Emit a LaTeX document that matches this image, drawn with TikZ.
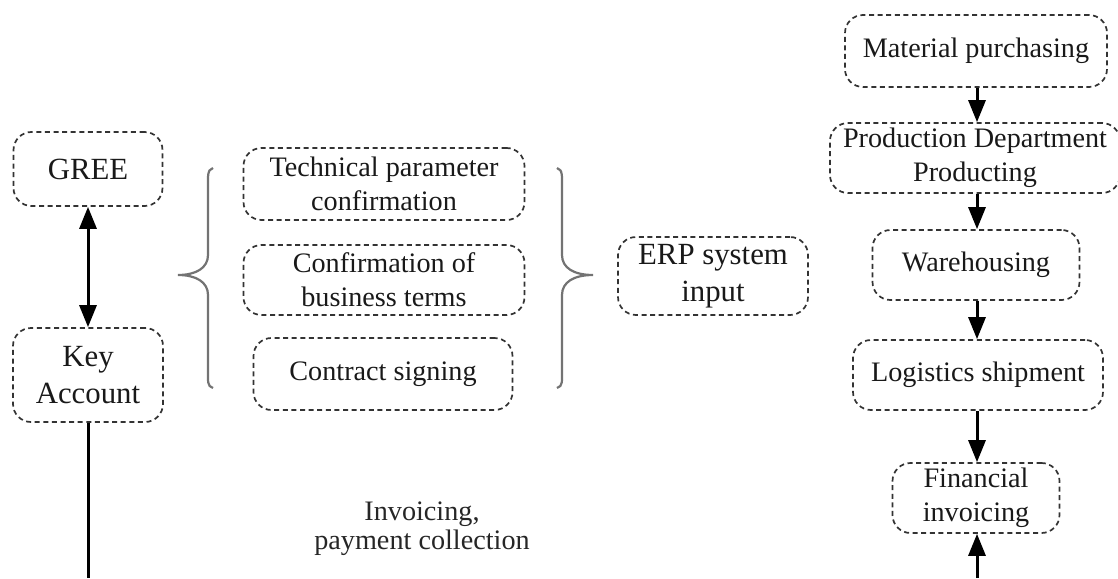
\documentclass[tikz,border=0pt]{standalone}
\usepackage{fontspec}
\setmainfont{Liberation Serif}
\usetikzlibrary{arrows.meta}
\begin{document}
\begin{tikzpicture}[x=1pt,y=-1pt,
  box/.style={draw=black!80, line width=1.7pt, dash pattern=on 5pt off 3.6pt,
    rounded corners=18pt, align=center, inner sep=0pt,
    font=\fontsize{28.2}{34}\selectfont, text=black!90},
  bigtext/.style={font=\fontsize{30.8}{37.5}\selectfont},
  tip/.tip={Triangle[length=22pt,width=17pt]},
  flow/.style={line width=3pt, -tip},
  curly/.style={draw=black!55, line width=2.2pt}]
\useasboundingbox (0,0) rectangle (1118,578);

% left column
\node[box, bigtext, minimum width=149pt, minimum height=74pt] (gree) at (88,169) {GREE};
\node[box, bigtext, minimum width=150pt, minimum height=94pt] (key) at (88,375) {Key\\Account};

% contract steps
\node[box, minimum width=281pt, minimum height=72pt] (tech) at (384,184) {Technical parameter\\confirmation};
\node[box, minimum width=281pt, minimum height=70pt] (terms) at (384,280) {Confirmation of\\business terms};
\node[box, minimum width=259pt, minimum height=72pt] (sign) at (383,374) {Contract signing};
\node[box, bigtext, minimum width=190pt, minimum height=78pt] (erp) at (713,276) {ERP system\\input};

% fulfilment chain
\node[box, minimum width=262pt, minimum height=72pt] (mat) at (976,51) {Material purchasing};
\node[box, minimum width=290pt, minimum height=70pt] (prod) at (975,158) {Production Department\\Producting};
\node[box, minimum width=207pt, minimum height=70pt] (ware) at (976,265) {Warehousing};
\node[box, minimum width=250pt, minimum height=70pt] (logi) at (978,375) {Logistics shipment};
\node[box, minimum width=167pt, minimum height=70pt] (fin) at (976,498) {Financial\\invoicing};

\node[align=center, inner sep=0pt, font=\fontsize{28.2}{29}\selectfont, text=black!85] (inv) at (422,529) {Invoicing,\\payment collection};

% braces
\draw[curly] (213,168) .. controls (207,170) and (208,176) .. (208,190) -- (208,255)
  .. controls (208,268) and (196,275) .. (178,275)
  .. controls (196,275) and (208,282) .. (208,295) -- (208,368)
  .. controls (208,382) and (207,386) .. (213,388);
\draw[curly] (557,168) .. controls (563,170) and (562,176) .. (562,190) -- (562,255)
  .. controls (562,268) and (574,275) .. (593,275)
  .. controls (574,275) and (562,282) .. (562,295) -- (562,368)
  .. controls (562,382) and (563,386) .. (557,388);

% connectors
\coordinate (keyEnd) at (88,578);
\coordinate (finStart) at (977,578);
\draw[line width=3pt, tip-tip] (gree.south) -- (key.north);
\draw[line width=3pt] (key.south) -- (keyEnd);
\draw[flow] (mat.south -| 977,0) -- (prod.north -| 977,0);
\draw[flow] (prod.south -| 977,0) -- (ware.north -| 977,0);
\draw[flow] (ware.south -| 977,0) -- (logi.north -| 977,0);
\draw[flow] (logi.south -| 977,0) -- (fin.north -| 977,0);
\draw[flow] (finStart) -- (fin.south -| 977,0);
\end{tikzpicture}
\end{document}
